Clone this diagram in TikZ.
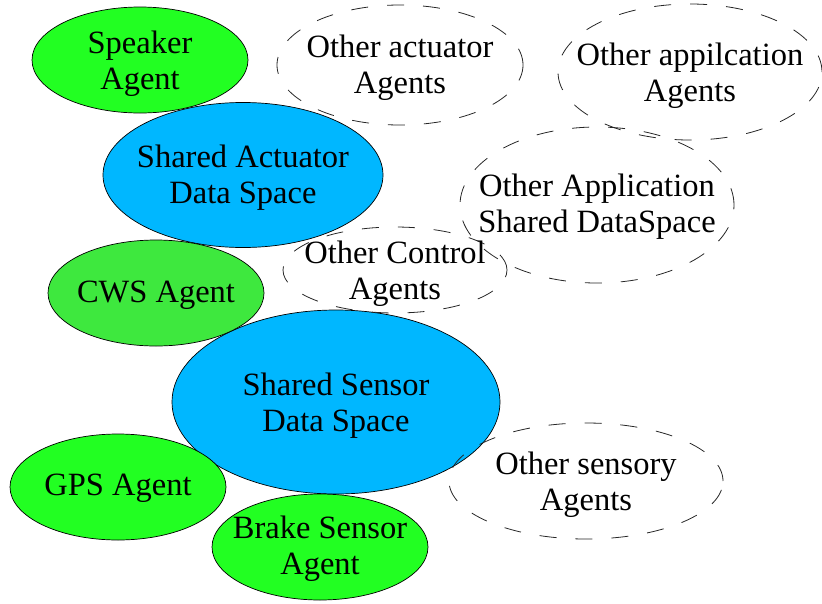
\documentclass[tikz,border=0pt]{standalone}
\usepackage{fontspec}
\setmainfont{Liberation Serif}
\newfontfamily\labelfont{Liberation Serif}
\usetikzlibrary{shapes.geometric}
\definecolor{agentgreen}{RGB}{34,255,34}
\definecolor{cwsgreen}{RGB}{62,232,62}
\definecolor{spaceblue}{RGB}{0,183,255}
\tikzset{
  blob/.style={ellipse, inner sep=0pt, draw=black, line width=0.7pt},
  agent/.style={blob, fill=agentgreen},
  space/.style={blob, fill=spaceblue},
  other/.style={ellipse, inner sep=0pt, draw=black!85, line width=0.8pt,
                dash pattern=on 17pt off 19pt},
  txt/.style={align=center, inner sep=0pt,
              font=\labelfont\fontsize{32.5}{36}\selectfont}
}
\begin{document}
\begin{tikzpicture}[x=1pt,y=-1pt]
\useasboundingbox (0,0) rectangle (822,603);

% shared data spaces
\node[space, minimum width=280pt, minimum height=145pt] (act) at (243,175) {};
\node[space, minimum width=328pt, minimum height=184pt] (sen) at (336,402) {};

% agents
\node[agent, minimum width=216pt, minimum height=106pt] (spk) at (140,60) {};
\node[blob, fill=cwsgreen, minimum width=216pt, minimum height=106pt] (cws) at (156,293) {};
\node[agent, minimum width=216pt, minimum height=106pt] (gps) at (118,487) {};
\node[agent, minimum width=216pt, minimum height=106pt] (brk) at (320,547) {};

% other (dashed) agents and spaces
\node[other, minimum width=246pt, minimum height=120pt] (oact) at (400,65) {};
\node[other, minimum width=264pt, minimum height=136pt] (oapp) at (690,72) {};
\node[other, minimum width=274pt, minimum height=156pt] (oasp) at (597,205) {};
\node[other, minimum width=224pt, minimum height=86pt] (octl) at (395,270) {};
\node[other, minimum width=274pt, minimum height=116pt] (osen) at (586,481) {};

% labels (yshift is in page units: negative moves down)
\node[txt] (spk-t) at ([yshift=-4pt]spk) {Speaker\\Agent};
\node[txt] (act-t) at ([yshift=-3pt]act) {Shared Actuator\\Data Space};
\node[txt] (cws-t) at ([yshift=-2pt]cws) {CWS Agent};
\node[txt] (sen-t) at ([yshift=-4pt]sen) {Shared Sensor\\Data Space};
\node[txt] (gps-t) at ([yshift=-1pt]gps) {GPS Agent};
\node[txt] (brk-t) at ([yshift=-2pt]brk) {Brake Sensor\\Agent};
\node[txt] (oact-t) at ([yshift=-3pt]oact) {Other actuator\\Agents};
\node[txt] (oapp-t) at ([yshift=-4pt]oapp) {Other appilcation\\Agents};
\node[txt] (oasp-t) at ([yshift=-2pt]oasp) {Other Application\\Shared DataSpace};
\node[txt] (octl-t) at ([yshift=-4pt]octl) {Other Control\\Agents};
\node[txt] (osen-t) at ([yshift=-4pt]osen) {Other sensory\\Agents};
\end{tikzpicture}
\end{document}
